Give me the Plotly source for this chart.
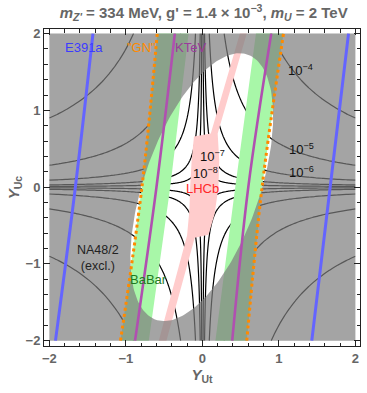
import plotly.graph_objects as go
import numpy as np

# constraint lines at Y_Uc = -2, 0, 2
line_y = [-2.0, 0.0, 2.0]
e391a_left = [-1.92, -1.66, -1.43]
e391a_right = [1.43, 1.67, 1.91]
ktev_left = [-0.88, -0.60, -0.36]
ktev_right = [0.39, 0.60, 0.90]
gn_left = [-1.07, -0.79, -0.59]
gn_right = [0.58, 0.78, 1.06]
babar_inner_left = [-0.70, -0.42, -0.18]
babar_inner_right = [0.17, 0.43, 0.70]

# LHCb allowed region (traced)
lhcb_x = [0.49, 0.58, 0.20, 0.22, 0.21, 0.16, 0.08, -0.10, -0.47, -0.57,
          -0.20, -0.17, -0.16, -0.14, -0.11, 0.11]
lhcb_y = [2.0, 2.0, 0.70, 0.35, 0.0, -0.35, -0.62, -0.66, -2.0, -2.0,
          -0.63, -0.30, 0.0, 0.35, 0.66, 0.70]

# points on the NA48/2 allowed-region boundary
na48_x = [-0.80, -0.52, -0.13, 0.18, 0.39, 0.70, 0.90, 0.90, 0.77, 0.64, 0.50, 0.25,
          0.05, -0.30, -0.60, -0.82]
na48_y = [0.05, 0.75, 1.33, 1.56, 1.75, 1.74, 1.31, 0.90, -0.05, -0.47, -0.63, -1.20,
          -1.45, -1.71, -1.70, -1.48]

# branching-ratio contours ~ K * (Y_Ut*Y_Uc)^2
br_levels = [1e-8, 1e-7, 1e-6, 1e-5, 1e-4]
br_norm = 3.09e-5

fig = go.Figure()

def band(xa, xb, ys, color):
    xs = list(xa) + list(xb)[::-1] + [xa[0]]
    yy = list(ys) + list(ys)[::-1] + [ys[0]]
    fig.add_trace(go.Scatter(x=xs, y=yy, mode='lines', fill='toself', fillcolor=color,
                             line=dict(width=0), hoverinfo='skip', showlegend=False))

# LHCb pink
fig.add_trace(go.Scatter(x=lhcb_x + [lhcb_x[0]], y=lhcb_y + [lhcb_y[0]], mode='lines', fill='toself',
                         fillcolor='#ffcccc', line=dict(width=0), hoverinfo='skip', showlegend=False))
# BaBar green bands
band(gn_left, babar_inner_left, line_y, '#a8f7a8')
band(babar_inner_right, gn_right, line_y, '#a8f7a8')

# contours
pos = np.geomspace(1e-4, 2.0, 160)
grid = np.concatenate([-pos[::-1], pos])
gx, gy = np.meshgrid(grid, grid)
z = np.round(np.log10(br_norm * (gx * gy) ** 2), 4)
fig.add_trace(go.Contour(x=grid, y=grid, z=z,
                         contours=dict(coloring='lines', start=np.log10(br_levels[0]),
                                       end=np.log10(br_levels[-1]), size=1),
                         colorscale=[[0, 'black'], [1, 'black']], line=dict(width=1.2),
                         showscale=False, hoverinfo='skip'))

# ellipse through the traced boundary points (least-squares conic)
px_, py_ = np.array(na48_x), np.array(na48_y)
M = np.column_stack([px_ ** 2, px_ * py_, py_ ** 2, px_, py_])
a, b, c, d, e = np.linalg.lstsq(M, np.ones(len(px_)), rcond=None)[0]
Q = np.array([[a, b / 2], [b / 2, c]])
x0 = -0.5 * np.linalg.solve(Q, [d, e])
k = 1 + x0 @ Q @ x0
lam, V = np.linalg.eigh(Q / k)
t = np.linspace(0, 2 * np.pi, 241)
uv = V @ np.vstack([np.cos(t) / np.sqrt(lam[0]), np.sin(t) / np.sqrt(lam[1])])
ex = x0[0] + uv[0]
ey = x0[1] + uv[1]
# make the hole run opposite to the outer square
if np.sum(ex[:-1] * ey[1:] - ex[1:] * ey[:-1]) > 0:
    ex, ey = ex[::-1], ey[::-1]

rx = [-2, 2, 2, -2, -2]
ry = [-2, -2, 2, 2, -2]
fig.add_trace(go.Scatter(x=rx + list(ex) + [-2], y=ry + list(ey) + [-2], mode='lines', fill='toself',
                         fillcolor='rgba(125,125,125,0.7)', line=dict(width=0),
                         hoverinfo='skip', showlegend=False))

def cline(xs, color, width, dash='solid'):
    fig.add_trace(go.Scatter(x=xs, y=line_y, mode='lines',
                             line=dict(color=color, width=width, dash=dash, shape='spline'),
                             hoverinfo='skip', showlegend=False))

cline(e391a_left, '#6464ff', 3)
cline(e391a_right, '#6464ff', 3)
cline(ktev_left, '#b050b0', 2.6)
cline(ktev_right, '#b050b0', 2.6)
cline(gn_left, '#ff8a00', 3, 'dot')
cline(gn_right, '#ff8a00', 3, 'dot')

def label(x, y, text, color, size=13):
    fig.add_annotation(x=x, y=y, text=text, showarrow=False, xref='x', yref='y',
                       font=dict(family='Liberation Sans', size=size, color=color))

label(-1.55, 1.82, 'E391a', '#3c3cff')
label(-0.8, 1.82, '"GN"', '#ff8a00')
label(-0.16, 1.82, 'KTeV', '#9a3a9a')
label(1.28, 1.53, '10<sup>−4</sup>', '#111')
label(1.3, 0.5, '10<sup>−5</sup>', '#111')
label(1.3, 0.2, '10<sup>−6</sup>', '#111')
label(0.13, 0.4, '10<sup>−7</sup>', '#111')
label(0.04, 0.18, '10<sup>−8</sup>', '#111')
label(0.0, -0.02, 'LHCb', '#ff2828')
label(-1.36, -0.92, 'NA48/2<br>(excl.)', '#222', 12.5)
label(-0.71, -1.2, 'BaBar', '#1f7a1f')

axis_common = dict(range=[-2.07, 2.06], dtick=1, ticks='inside', ticklen=6, tickwidth=1,
                   tickcolor='#222', showline=True, linecolor='#222', linewidth=1,
                   mirror='allticks', showgrid=False, zeroline=False, automargin=False,
                   minor=dict(ticks='inside', ticklen=3.5, dtick=0.2, tickcolor='#222', showgrid=False),
                   tickfont=dict(family='Liberation Sans', size=13, color='#666', weight='bold'))

fig.update_layout(
    width=367, height=393,
    margin=dict(l=44, r=7, t=29, b=47),
    plot_bgcolor='white', paper_bgcolor='white',
    title=dict(text="<i>m</i><sub><i>Z'</i></sub> = 334 MeV, g' = 1.4 × 10<sup>−3</sup>, <i>m</i><sub><i>U</i></sub> = 2 TeV",
               x=0.555, xanchor='center', y=0.968, yanchor='middle', yref='container',
               font=dict(family='Liberation Sans', size=15, color='#666', weight='bold')),
    xaxis=dict(axis_common, title=dict(text='<i>Y</i><sub>Ut</sub>', standoff=4,
                                       font=dict(family='Liberation Sans', size=15, color='#666', weight='bold'))),
    yaxis=dict(axis_common, title=dict(text='<i>Y</i><sub>Uc</sub>', standoff=2,
                                       font=dict(family='Liberation Sans', size=15, color='#666', weight='bold'))),
    showlegend=False,
)

fig.write_html('out.html', config={'displayModeBar': False},
               post_script="document.body.style.margin='0px';")
